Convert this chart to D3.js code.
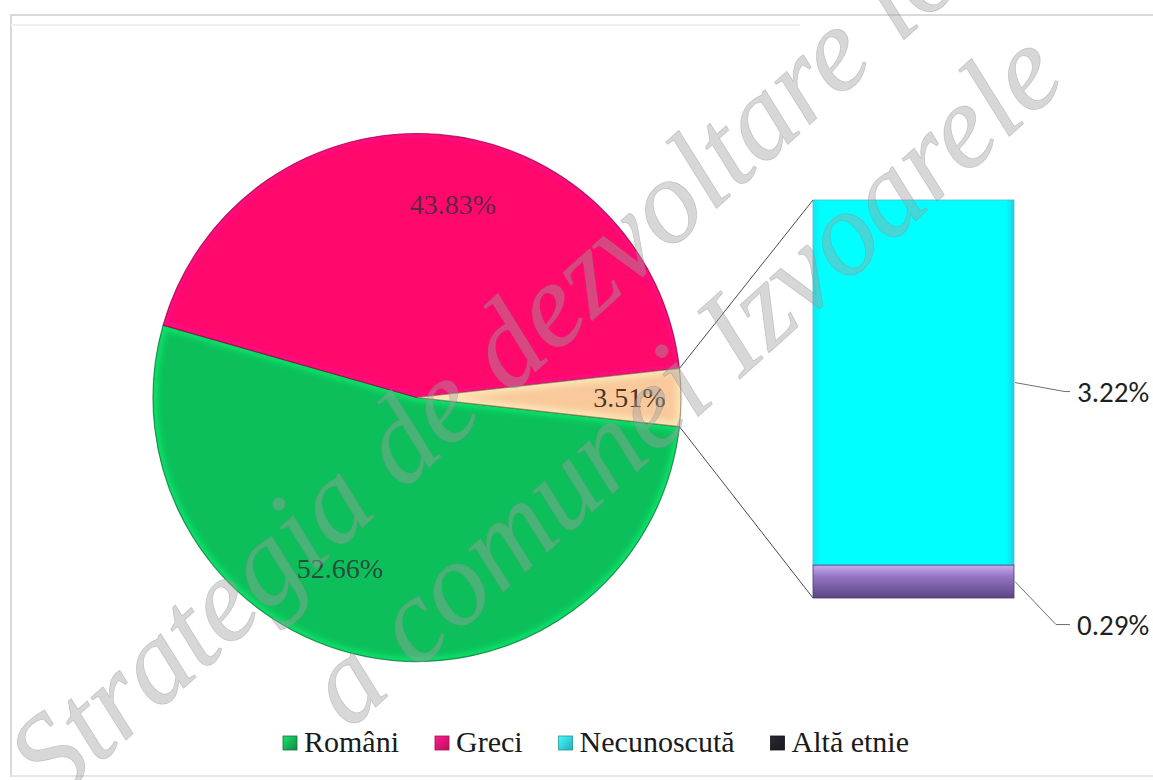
<!DOCTYPE html>
<html>
<head>
<meta charset="utf-8">
<script src="https://cdn.jsdelivr.net/npm/d3@7/dist/d3.min.js"></script>
<style>
  html, body { margin: 0; padding: 0; background: #fff; }
  svg { display: block; }
</style>
</head>
<body>
<svg id="chart" width="1153" height="780"></svg>
<script>
// pie part
var pieCategories = ['Români', 'Greci'];
var pieValues = [52.66, 43.83];
var pieColors = ['#0cbf5a', '#ff0a6c'];
// the "other" slice is broken out into the bar
var barCategories = ['Necunoscută', 'Altă etnie'];
var barValues = [3.22, 0.29];
var barColors = ['#00ffff', '#8a6cb4'];
var otherColor = '#f9c99b';
var legendColors = ['#12a653', '#e8146a', '#2fd3e3', '#1e1e24'];

var svg = d3.select('#chart');
var defs = svg.append('defs');
var fmt = function(v) { return d3.format('.2f')(v) + '%'; };

// frame
svg.append('path')
  .attr('d', 'M11,777 L11,15 L1153,15')
  .attr('fill', 'none').attr('stroke', '#d9d9d9').attr('stroke-width', 2);
svg.append('line').attr('x1', 11).attr('x2', 800).attr('y1', 25).attr('y2', 25)
  .attr('stroke', '#f0f0f0').attr('stroke-width', 2);
svg.append('line').attr('x1', 11).attr('x2', 1153).attr('y1', 776).attr('y2', 776)
  .attr('stroke', '#e6e6e6').attr('stroke-width', 2);

defs.append('filter').attr('id', 'soft')
  .append('feGaussianBlur').attr('stdDeviation', 3);

var otherValue = d3.sum(barValues);
var slices = pieCategories.map(function(c, i) {
  return { name: c, value: pieValues[i], color: pieColors[i] };
});
slices.push({ name: 'other', value: otherValue, color: otherColor });

var total = d3.sum(slices, function(d) { return d.value; });
var otherAngle = 2 * Math.PI * otherValue / total;
var start = Math.PI / 2 + otherAngle / 2;

var cx = 417, cy = 397.5, R = 264;

var pie = d3.pie().sort(null).value(function(d) { return d.value; })
  .startAngle(start).endAngle(start + 2 * Math.PI);
var arcs = pie(slices);
var arc = d3.arc().innerRadius(0).outerRadius(R);

var gPie = svg.append('g').attr('transform', 'translate(' + cx + ',' + cy + ')');

arcs.forEach(function(a, i) {
  var col = d3.color(a.data.color);
  defs.append('clipPath').attr('id', 'clip' + i)
    .append('path').attr('d', arc(a));
  gPie.append('path').attr('d', arc(a)).attr('fill', a.data.color);
  // bevel-ish inner glow
  gPie.append('path').attr('d', arc(a))
    .attr('fill', 'none')
    .attr('stroke', col.brighter(0.8))
    .attr('stroke-width', 9)
    .attr('opacity', 0.55)
    .attr('filter', 'url(#soft)')
    .attr('clip-path', 'url(#clip' + i + ')');
  gPie.append('path').attr('d', arc(a))
    .attr('fill', 'none')
    .attr('stroke', col.darker(1.6))
    .attr('stroke-opacity', 0.7)
    .attr('stroke-width', 1.2);
});

// pie data labels
var labelTurn = [0.23, 0.1, 0];
var labelRadius = [0.71, 0.745, 0.805];
arcs.forEach(function(a, i) {
  var mid = (a.startAngle + a.endAngle) / 2 + labelTurn[i];
  var r = R * labelRadius[i];
  gPie.append('text')
    .attr('x', Math.sin(mid) * r)
    .attr('y', -Math.cos(mid) * r)
    .attr('dy', '0.35em')
    .attr('text-anchor', 'middle')
    .attr('font-family', "'Liberation Serif', serif")
    .attr('font-size', 28)
    .attr('fill', i === 2 ? '#3b2c1c' : '#2f2f36')
    .attr('fill-opacity', i === 2 ? 0.95 : 0.8)
    .text(fmt(a.data.value));
});

// bar of pie, first category on top
var barX = 813, barW = 201;
var y = d3.scaleLinear().domain([0, otherValue]).range([200, 598]);
var stack = [];
var acc = 0;
barValues.forEach(function(v, i) {
  stack.push({ name: barCategories[i], value: v, y0: acc, y1: acc + v, color: barColors[i] });
  acc += v;
});

var grad = defs.append('linearGradient').attr('id', 'purple')
  .attr('x1', 0).attr('y1', 0).attr('x2', 0).attr('y2', 1);
grad.append('stop').attr('offset', '0%').attr('stop-color', '#c9aef0');
grad.append('stop').attr('offset', '35%').attr('stop-color', '#9474c4');
grad.append('stop').attr('offset', '100%').attr('stop-color', '#5a4582');

var cyanGrad = defs.append('linearGradient').attr('id', 'cyan')
  .attr('x1', 0).attr('y1', 0).attr('x2', 1).attr('y2', 0);
cyanGrad.append('stop').attr('offset', '0%').attr('stop-color', '#10e8f0');
cyanGrad.append('stop').attr('offset', '4%').attr('stop-color', '#00ffff');
cyanGrad.append('stop').attr('offset', '96%').attr('stop-color', '#00ffff');
cyanGrad.append('stop').attr('offset', '100%').attr('stop-color', '#20d0e0');

var gBar = svg.append('g');
gBar.selectAll('rect').data(stack).enter().append('rect')
  .attr('x', barX)
  .attr('width', barW)
  .attr('y', function(d) { return y(d.y0); })
  .attr('height', function(d) { return y(d.y1) - y(d.y0); })
  .attr('fill', function(d, i) { return i === 0 ? 'url(#cyan)' : 'url(#purple)'; })
  .attr('stroke', function(d, i) { return i === 0 ? '#52b8d0' : '#4a3a6a'; })
  .attr('stroke-width', 0.8);

// connector lines from pie to bar
var a0 = arcs[2].startAngle, a1 = arcs[2].endAngle;
svg.append('line')
  .attr('x1', cx + Math.sin(a0) * R).attr('y1', cy - Math.cos(a0) * R)
  .attr('x2', barX).attr('y2', y(0))
  .attr('stroke', '#4a4a4a').attr('stroke-width', 1);
svg.append('line')
  .attr('x1', cx + Math.sin(a1) * R).attr('y1', cy - Math.cos(a1) * R)
  .attr('x2', barX).attr('y2', y(otherValue))
  .attr('stroke', '#4a4a4a').attr('stroke-width', 1);

// bar labels with leader lines
var labelDrop = [9, 43];
var elbow = [50, 41];
stack.forEach(function(d, i) {
  var my = (y(d.y0) + y(d.y1)) / 2;
  var ly = my + labelDrop[i];
  var x0 = barX + barW + 1;
  svg.append('polyline')
    .attr('points', [[x0, my], [x0 + elbow[i], ly], [x0 + 55, ly]].map(function(p) { return p.join(','); }).join(' '))
    .attr('fill', 'none').attr('stroke', '#707070').attr('stroke-width', 1);
  svg.append('text')
    .attr('x', x0 + 62)
    .attr('y', ly)
    .attr('dy', '0.36em')
    .attr('font-family', "Carlito, Calibri, 'Liberation Sans', sans-serif")
    .attr('font-size', 29)
    .attr('fill', '#1f1f1f')
    .text(fmt(d.value));
});

// legend
var legendNames = pieCategories.concat(barCategories);
var gLeg = svg.append('g');
var items = legendNames.map(function(n, i) {
  var t = gLeg.append('text')
    .attr('font-family', "'Liberation Serif', serif")
    .attr('font-size', 30)
    .attr('fill', '#1a1a1a')
    .attr('y', 752)
    .text(n);
  return { t: t, w: t.node().getComputedTextLength(), color: legendColors[i] };
});
var box = 14, gap = 7, spacing = 36;
var legW = d3.sum(items, function(d) { return box + gap + d.w; }) + spacing * (items.length - 1);
var lx = 596 - legW / 2;
items.forEach(function(d, i) {
  var g = defs.append('linearGradient').attr('id', 'lg' + i)
    .attr('x1', 0).attr('y1', 0).attr('x2', 1).attr('y2', 1);
  g.append('stop').attr('offset', '0%').attr('stop-color', d3.color(d.color).brighter(0.9));
  g.append('stop').attr('offset', '100%').attr('stop-color', d3.color(d.color).darker(0.6));
  gLeg.append('rect')
    .attr('x', lx).attr('y', 736).attr('width', box).attr('height', box)
    .attr('fill', 'url(#lg' + i + ')')
    .attr('stroke', d3.color(d.color).darker(1)).attr('stroke-width', 0.8);
  d.t.attr('x', lx + box + gap);
  lx += box + gap + d.w + spacing;
});

// watermark
var wm = svg.append('g').attr('pointer-events', 'none');
var wmLines = [
  { text: 'Strategia de dezvoltare locală', x: 53, y: 806 },
  { text: 'a comunei Izvoarele', x: 349, y: 731 }
];
wmLines.forEach(function(l) {
  wm.append('text')
    .attr('transform', 'translate(' + l.x + ',' + l.y + ') rotate(-42)')
    .attr('font-family', "'Liberation Serif', serif")
    .attr('font-style', 'italic')
    .attr('font-size', 120)
    .attr('fill', '#a0a0a0')
    .attr('fill-opacity', 0.42)
    .attr('stroke', '#8a8a8a')
    .attr('stroke-opacity', 0.35)
    .attr('stroke-width', 0.8)
    .text(l.text);
});
</script>
</body>
</html>
